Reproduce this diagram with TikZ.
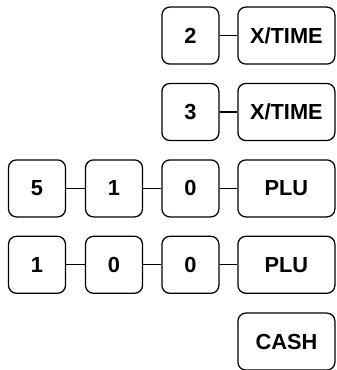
\documentclass[tikz,border=0pt]{standalone}
\usepackage{fontspec}
\setmainfont{Liberation Sans}
\usepackage{tikz}

\tikzset{
key/.style={draw, line width=0.9pt, rounded corners=0.2cm, minimum width=1.425cm, minimum height=1.425cm, inner sep=0pt, font=\fontsize{15.5}{18}\selectfont\bfseries},
bigkey/.style={key, minimum width=2.425cm}
}

\begin{document}
\begin{tikzpicture}
\useasboundingbox (0,0) rectangle (8.4,9.25);
\node[key] (two) at (4.76,8.36) {2};
\node[bigkey] (xtimea) at (7.16,8.36) {X/TIME};
\draw [line width=0.9pt] (two) -- (xtimea);
\node[key] (three) at (4.76,6.45) {3};
\node[bigkey] (xtimeb) at (7.16,6.45) {X/TIME};
\draw [line width=0.9pt] (three) -- (xtimeb);
\node[key] (five) at (0.925,4.54) {5};
\node[key] (onea) at (2.85,4.54) {1};
\node[key] (zeroa) at (4.76,4.54) {0};
\node[bigkey] (plua) at (7.16,4.54) {PLU};
\draw [line width=0.9pt] (five) -- (onea);
\draw [line width=0.9pt] (onea) -- (zeroa);
\draw [line width=0.9pt] (zeroa) -- (plua);
\node[key] (oneb) at (0.925,2.63) {1};
\node[key] (zerob) at (2.85,2.63) {0};
\node[key] (zeroc) at (4.76,2.63) {0};
\node[bigkey] (plub) at (7.16,2.63) {PLU};
\draw [line width=0.9pt] (oneb) -- (zerob);
\draw [line width=0.9pt] (zerob) -- (zeroc);
\draw [line width=0.9pt] (zeroc) -- (plub);
\node[bigkey] (cash) at (7.16,0.71) {CASH};
\end{tikzpicture}
\end{document}
